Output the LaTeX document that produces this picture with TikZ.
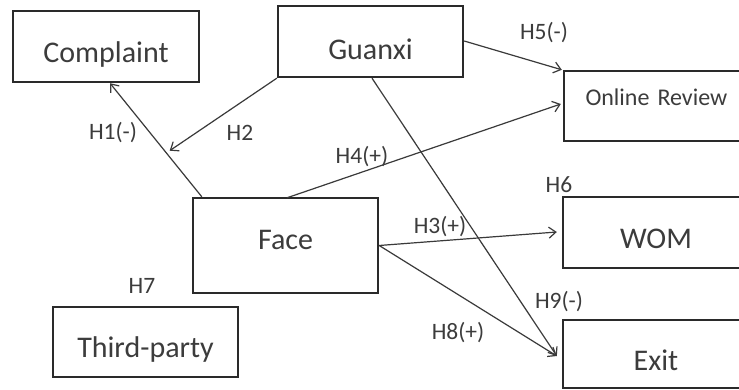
\documentclass[tikz,border=0pt]{standalone}
\usepackage{fontspec}
\setmainfont{Carlito}
\usetikzlibrary{arrows.meta,calc}
\definecolor{boxline}{HTML}{2A2A2A}
\definecolor{txt}{HTML}{3C3C3C}
\definecolor{arrline}{HTML}{3A3A3A}
\begin{document}
\begin{tikzpicture}[x=1pt,y=-1pt,
  box/.style={draw=boxline, line width=2.4pt, rectangle, inner sep=0pt,
    minimum width=186pt, minimum height=71pt, text=txt,
    font=\fontsize{30}{30}\selectfont, text height=33pt, text depth=0pt},
  hlab/.style={text=txt, inner sep=0pt, font=\fontsize{23.5}{23.5}\selectfont},
  arr/.style={draw=arrline, line width=1.2pt, -{Straight Barb[length=7pt,width=11pt]}}
]
\useasboundingbox (0,0) rectangle (739,390);
\clip (0,0) rectangle (739,390);
\fill[white] (0,0) rectangle (739,390);
% boxes
\node[box] (complaint) at (106,46.5) {Complaint};
\node[box, minimum width=185pt, text height=36pt] (guanxi) at (370.5,41.5) {Guanxi};
\node[box, minimum width=185pt, minimum height=70pt, text width=142pt, align=left,
  font=\fontsize{24}{24}\selectfont, text height=15.5pt, text depth=17.4pt] (review) at (656.5,106) {Online Review};
\node[box, minimum width=185pt, minimum height=95pt, text height=19.3pt, text depth=11pt] (face) at (285.5,245.5) {Face};
\node[box] (wom) at (656,232.5) {WOM};
\node[box, minimum height=68pt] (exit) at (656,354) {Exit};
\node[box, minimum width=185pt, minimum height=70pt, text height=30pt] (third) at (145.5,342) {Third-party};
% connectors
\draw[arr] ([xshift=10pt]face.north west) -- coordinate[pos=0.386] (mod) ([xshift=4pt]complaint.south);
\draw[arr, shorten >=4pt] (guanxi.south west) -- (mod);
\draw[arr] ([xshift=1.5pt,yshift=-1pt]face.north) -- ([xshift=-2pt,yshift=2pt]review.west);
\draw[arr] ([yshift=0.5pt]guanxi.east) -- ([xshift=-1pt]review.north west);
\draw[arr] ([xshift=1.5pt]guanxi.south) -- ([xshift=-5pt,yshift=-2pt]exit.west);
\draw[arr] (face.east) -- ([xshift=-5pt,yshift=0.5pt]wom.west);
\draw[arr] (face.east) -- ([xshift=-5pt,yshift=-2pt]exit.west);
% labels
\node[hlab] (h1) at (113,133) {H1(-)};
\node[hlab] (h2) at (240,133) {H2};
\node[hlab] (h4) at (362,157) {H4(+)};
\node[hlab] (h5) at (544,33) {H5(-)};
\node[hlab] (h6) at (559,185) {H6};
\node[hlab] (h7) at (142,286) {H7};
\node[hlab] (h3) at (440,227) {H3(+)};
\node[hlab] (h9) at (559,302) {H9(-)};
\node[hlab] (h8) at (458,333) {H8(+)};
\end{tikzpicture}
\end{document}
